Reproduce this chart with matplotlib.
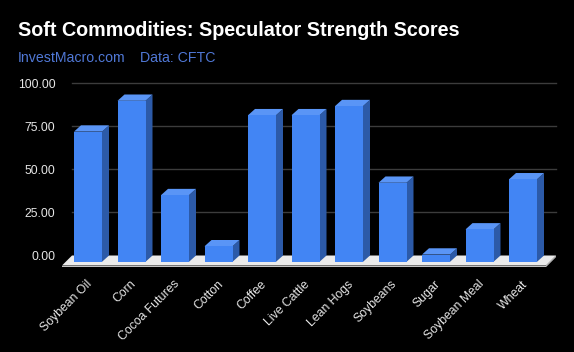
import matplotlib
matplotlib.use("Agg")
import matplotlib.pyplot as plt
from matplotlib.patches import Polygon
import numpy as np

categories = ["Soybean Oil", "Corn", "Cocoa Futures", "Cotton", "Coffee", "Live Cattle",
              "Lean Hogs", "Soybeans", "Sugar", "Soybean Meal", "Wheat"]
values = [75.6, 93.5, 38.7, 9.0, 85.1, 85.1, 90.4, 45.9, 4.2, 18.8, 47.9]
yticks = [0, 25, 50, 75, 100]
ytick_labels = ["0.00", "25.00", "50.00", "75.00", "100.00"]
title = "Soft Commodities: Speculator Strength Scores"
source1 = "InvestMacro.com"
source2 = "Data: CFTC"

W, H, DPI = 574, 352, 100
fig = plt.figure(figsize=(W / DPI, H / DPI), dpi=DPI, facecolor="black")

# axes geometry (pixels)
ax_left_px, ax_right_px = 72, 556
y0_px, y100_px = 255.5, 83.3
ppu = (y0_px - y100_px) / 100.0
ymin, ymax = -10, 100
ax_bottom_px = y0_px - ymin * ppu
ax_top_px = y0_px - ymax * ppu
ax = fig.add_axes([ax_left_px / W, (H - ax_bottom_px) / H,
                   (ax_right_px - ax_left_px) / W, (ax_bottom_px - ax_top_px) / H])
ax.set_facecolor("black")

first_c, spacing = 95.0, 43.5
xmin = (ax_left_px - first_c) / spacing
xmax = (ax_right_px - first_c) / spacing
ax.set_xlim(xmin, xmax)
ax.set_ylim(ymin, ymax)
for s in ax.spines.values():
    s.set_visible(False)

# gridlines
for t in yticks[1:]:
    ax.plot([xmin, xmax], [t, t], color="#3c3c3c", lw=1, zorder=1, clip_on=False)

# floor
fdx = 10 / spacing
fdy = 10 / ppu
thick = 1.6 / ppu
floor = Polygon([(xmin, 0), (xmax, 0), (xmax - fdx, -fdy), (xmin - fdx, -fdy)],
                closed=True, facecolor="#ebebeb", edgecolor="none", zorder=2, clip_on=False)
ax.add_patch(floor)
floor_edge = Polygon([(xmin - fdx, -fdy), (xmax - fdx, -fdy), (xmax - fdx, -fdy - thick),
                      (xmin - fdx, -fdy - thick)],
                     closed=True, facecolor="#c4c4c4", edgecolor="none", zorder=2, clip_on=False)
ax.add_patch(floor_edge)
floor_side = Polygon([(xmax, 0), (xmax, -thick), (xmax - fdx, -fdy - thick), (xmax - fdx, -fdy)],
                     closed=True, facecolor="#c4c4c4", edgecolor="none", zorder=2, clip_on=False)
ax.add_patch(floor_side)

# 3D bars
bw = 28 / spacing
dx = 7 / spacing
dy = 6.3 / ppu
front_c = "#4285f4"
side_c = "#2c5aa8"
top_c = "#5a95f6"
x = np.arange(len(categories))
ax.bar(x - dx, np.array(values), bottom=-dy, width=bw, color=front_c, zorder=4,
       edgecolor="none")
for xi, v in zip(x, values):
    l, r = xi - bw / 2 - dx, xi + bw / 2 - dx
    top = v - dy
    side = Polygon([(r, -dy), (r + dx, 0), (r + dx, v), (r, top)], closed=True,
                   facecolor=side_c, edgecolor="none", zorder=3)
    ax.add_patch(side)
    tp = Polygon([(l, top), (r, top), (r + dx, v), (l + dx, v)], closed=True,
                 facecolor=top_c, edgecolor="none", zorder=3)
    ax.add_patch(tp)

ax.set_yticks(yticks)
ax.set_yticklabels(ytick_labels, fontsize=8.8, color="#e6e6e6", family="Liberation Sans")
ax.set_xticks(x)
ax.set_xticklabels(categories, rotation=45, ha="right", fontsize=8.8, color="#e6e6e6",
                   family="Liberation Sans")
ax.tick_params(axis="y", length=0, pad=12)
ax.tick_params(axis="x", length=0, pad=4)

fig.text(18 / W, (H - 36) / H, title, color="white", fontsize=14.2, fontweight="bold",
         family="Liberation Sans", va="baseline", ha="left")
fig.text(18 / W, (H - 62.5) / H, source1, color="#5078d6", fontsize=10.2,
         family="Liberation Sans", va="baseline", ha="left")
fig.text(140 / W, (H - 62.5) / H, source2, color="#5078d6", fontsize=10.2,
         family="Liberation Sans", va="baseline", ha="left")

fig.savefig("out.png", dpi=DPI, facecolor="black")
